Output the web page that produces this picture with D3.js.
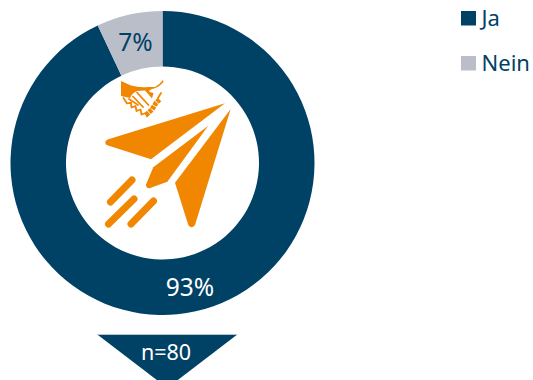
<!DOCTYPE html>
<html><head><meta charset="utf-8">
<script src="https://cdn.jsdelivr.net/npm/d3@7"></script>
<style>html,body{margin:0;padding:0;background:#fff}svg{display:block}text{font-family:"Noto Sans",sans-serif}</style>
</head><body><svg id="c" width="533" height="380"></svg>
<script>
const categories = ["Ja", "Nein"];
const values = [93, 7];
const sampleLabel = "n=80";
const colors = ["#004166", "#b9bec9"];
const labelColors = ["#ffffff", "#004166"];

const svg = d3.select("#c");
const cx = 162.5, cy = 163, R = 152, r = 96.5;
const color = d3.scaleOrdinal(categories, colors);
const pie = d3.pie().sort(null)(values);
const arc = d3.arc().innerRadius(r).outerRadius(R);
const g = svg.append("g").attr("transform", `translate(${cx},${cy})`);
g.selectAll("path").data(pie).join("path")
  .attr("d", arc).attr("fill", (d,i)=>color(categories[i]));
const labelPos = [[27.5, 124], [-27, -120.5]];
g.selectAll("text").data(pie).join("text")
  .attr("x",(d,i)=>labelPos[i][0]).attr("y",(d,i)=>labelPos[i][1])
  .attr("dy","0.36em").attr("text-anchor","middle").attr("font-size",24.5)
  .attr("fill",(d,i)=>labelColors[i]).text(d=>d.data+"%");

// legend
const legendY = [18, 63];
const lg = svg.selectAll("g.l").data(categories).join("g").attr("class","l")
  .attr("transform",(d,i)=>`translate(461,${legendY[i]})`);
lg.append("rect").attr("y",-7).attr("width",15).attr("height",14.5).attr("fill",d=>color(d));
lg.append("text").attr("x",20.5).attr("dy","0.36em").attr("font-size",22).attr("fill","#004166").text(d=>d);

// n marker
svg.append("path").attr("d","M97.3,334.6L237.3,334.6L167.3,388Z").attr("fill","#004166");
svg.append("line").attr("x1",97.5).attr("x2",237).attr("y1",334.5).attr("y2",334.5).attr("stroke","#b5c4d2").attr("stroke-width",1);
svg.append("text").attr("x",166).attr("y",352).attr("dy","0.36em").attr("text-anchor","middle").attr("font-size",21.5).attr("fill","#fff").text(sampleLabel);

// icons
const orange = "#f18700";
const ic = svg.append("g").attr("fill",orange);
ic.append("path").attr("d","M225,103.3L107.5,139.5Q103.5,142 106.5,145L151,159.3Z");
ic.append("path").attr("d","M208.3,125.7L153.3,167.3L146,184.5Q146,188.5 149.5,188.3L167.3,181.7Z");
ic.append("path").attr("d","M230.7,109L175,182.7L188.3,225Q191.5,229.5 195,225Z");
const st = svg.append("g").attr("stroke",orange).attr("stroke-width",7).attr("stroke-linecap","round");
[[132,180,110.5,202],[134,199,108.5,224],[153.5,201,131,224]].forEach(a=>
  st.append("line").attr("x1",a[0]).attr("y1",a[1]).attr("x2",a[2]).attr("y2",a[3]));
// handshake
ic.append("path").attr("d","M121,81L131,85.5Q140,88 148,87L155,87Q160,84 163,80L163.5,82Q159,87 154,88.5Q148,90 149.5,92L153.5,93L152,98.5L145,90.5L137,91Q132,93 130,98L121,96Z");
const hs = svg.append("g").attr("stroke",orange).attr("fill","none").attr("stroke-linecap","round").attr("stroke-linejoin","round");
hs.append("path").attr("stroke-width",1.8).attr("d","M123.5,98L127,103.5L131,102.5L131.5,107.5L135.5,106L136.5,111L140.5,109.5L141.5,114.5L146,113L147,116.5");
hs.append("path").attr("stroke-width",1.8).attr("d","M129,99L138,105M133,96.5L143,107M137,92.5L148.5,105");
hs.append("path").attr("stroke-width",5).attr("stroke-dasharray","3.5 0.8").attr("stroke-linecap","butt").attr("d","M146,115L152,109.5L156,103L160,99");
hs.append("path").attr("stroke-width",1.8).attr("d","M158,98L161,93");
</script></body></html>
